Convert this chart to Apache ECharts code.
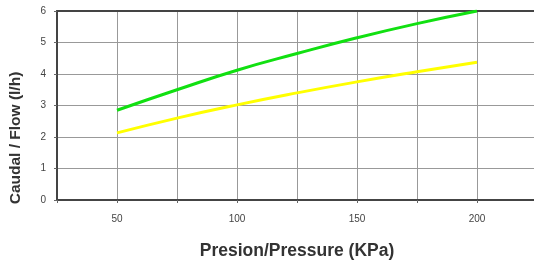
<!DOCTYPE html>
<html>
<head>
<meta charset="utf-8">
<script src="https://cdn.jsdelivr.net/npm/echarts@6/dist/echarts.min.js"></script>
<style>
  html, body { margin: 0; padding: 0; background: #fff; }
  #gh { width: 534px; height: 261px; }
</style>
</head>
<body>
<div id="gh"></div>
<script>
// presion (KPa) / caudal (l/h)
var pressure = [50, 75, 100, 125, 150, 175, 200];
var flowGreen = [2.85, 3.5, 4.12, 4.65, 5.15, 5.6, 6.0];
var flowYellow = [2.13, 2.6, 3.02, 3.4, 3.75, 4.07, 4.37];
var xTicks = [50, 100, 150, 200];

function pairs(xs, ys) {
  return xs.map(function (x, i) { return [x, ys[i]]; });
}

var dom = document.getElementById("gh");
var myChart = echarts.init(dom);

var option = {
  animation: false,
  grid: { left: 57, right: -3, top: 11, bottom: 61, outerBoundsMode: 'none', containLabel: false },
  graphic: [
    {
      type: 'text',
      x: 16, y: 138,
      rotation: Math.PI / 2,
      style: {
        text: 'Caudal / Flow (l/h)',
        fontFamily: 'Liberation Sans', fontWeight: 'bold', fontSize: 15.5,
        fill: '#333', align: 'center', verticalAlign: 'middle'
      }
    }
  ],
  xAxis: [
    {
      type: 'value',
      min: 25,
      max: 225,
      interval: 25,
      name: 'Presion/Pressure (KPa)',
      nameLocation: 'middle',
      nameGap: 42,
      nameTextStyle: { fontFamily: 'Liberation Sans', fontWeight: 'bold', fontSize: 17.5, color: '#333' },
      axisLine: { lineStyle: { color: '#444', width: 2 } },
      axisTick: { show: true, length: 3, lineStyle: { color: '#666' } },
      axisLabel: {
        fontFamily: 'Liberation Sans', fontSize: 10, color: '#444', margin: 14,
        formatter: function (v) { return xTicks.indexOf(v) >= 0 ? String(v) : ''; }
      },
      splitLine: { lineStyle: { color: '#999', width: 1 } }
    },
    {
      type: 'value',
      position: 'top',
      min: 25,
      max: 225,
      axisLine: { show: true, lineStyle: { color: '#444', width: 2 } },
      axisTick: { show: false },
      axisLabel: { show: false },
      splitLine: { show: false }
    }
  ],
  yAxis: {
    type: 'value',
    min: 0,
    max: 6,
    interval: 1,
    axisLine: { show: true, lineStyle: { color: '#444', width: 2 } },
    axisTick: { show: true, length: 3, lineStyle: { color: '#666' } },
    axisLabel: { fontFamily: 'Liberation Sans', fontSize: 10, color: '#444', margin: 11 },
    splitLine: { lineStyle: { color: '#999', width: 1 } }
  },
  series: [
    {
      type: 'line',
      data: pairs(pressure, flowGreen),
      smooth: true,
      symbol: 'none',
      lineStyle: { color: '#11e011', width: 3 }
    },
    {
      type: 'line',
      data: pairs(pressure, flowYellow),
      smooth: true,
      symbol: 'none',
      lineStyle: { color: '#ffff00', width: 3 }
    }
  ]
};

myChart.setOption(option);
</script>
</body>
</html>
